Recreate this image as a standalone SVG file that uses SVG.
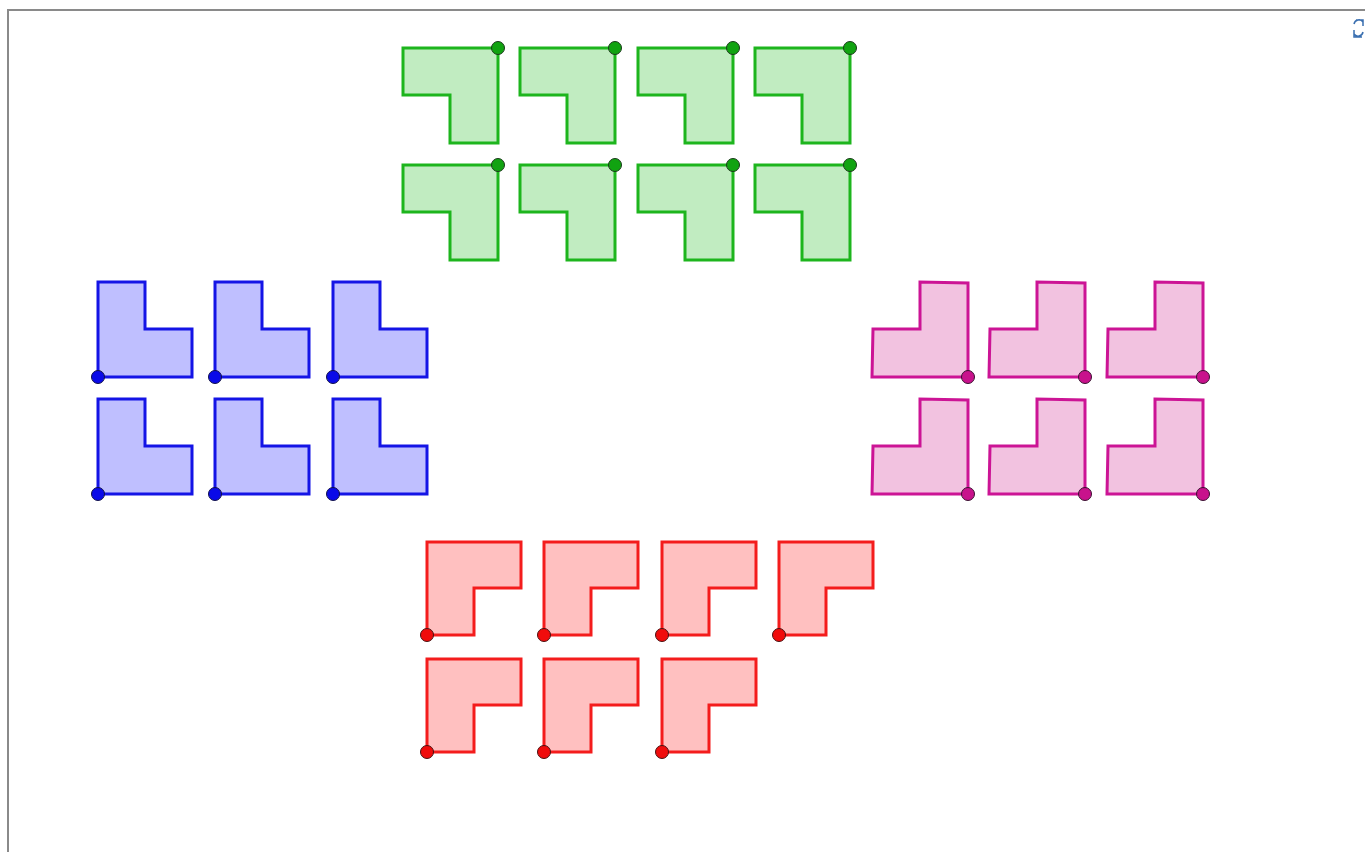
<svg xmlns="http://www.w3.org/2000/svg" xmlns:xlink="http://www.w3.org/1999/xlink" width="1365" height="852" viewBox="0 0 1365 852">
<style>
.g{fill:#c1ecc1;stroke:#1db51d;stroke-width:3;stroke-linejoin:miter}
.gd{fill:#11a311;stroke:#1a3a1a;stroke-width:1}
.b{fill:#bfbfff;stroke:#1414e6;stroke-width:3}
.bd{fill:#0a0ae8;stroke:#10104a;stroke-width:1}
.p{fill:#f2c2e0;stroke:#cc1495;stroke-width:3}
.pd{fill:#c8128c;stroke:#3a1030;stroke-width:1}
.r{fill:#ffc0c0;stroke:#f41c1c;stroke-width:3}
.rd{fill:#f00c0c;stroke:#4a1010;stroke-width:1}
</style>
<defs>
<g id="G"><path class="g" d="M0,0 H95 V95 H47 V47 H0 Z"/><circle class="gd" cx="95" cy="0" r="6.5"/></g>
<g id="B"><path class="b" d="M0,0 V-95 H47 V-48 H94 V0 Z"/><circle class="bd" cx="0" cy="0" r="6.5"/></g>
<g id="P"><path class="p" d="M0,0 V-94 L-48,-95 V-48 H-95 L-96,0 Z"/><circle class="pd" cx="0" cy="0" r="6.5"/></g>
<g id="R"><path class="r" d="M0,0 V-93 H94 V-47 H47 V0 Z"/><circle class="rd" cx="0" cy="0" r="6.5"/></g>
</defs>
<rect width="1365" height="852" fill="#fff"/>
<path d="M8,852 V10 H1365" fill="none" stroke="#8a8a8a" stroke-width="2"/>
<path d="M1356,20 h7 v6 M1354,24 a5,5 0 0 1 9,-2 M1363,32 a5,5 0 0 1 -9,2 M1354,30 v7 h8" fill="none" stroke="#3a6fb0" stroke-width="1.5"/>
<g id="green">
<use xlink:href="#G" x="403" y="48"/><use xlink:href="#G" x="520" y="48"/><use xlink:href="#G" x="638" y="48"/><use xlink:href="#G" x="755" y="48"/>
<use xlink:href="#G" x="403" y="165"/><use xlink:href="#G" x="520" y="165"/><use xlink:href="#G" x="638" y="165"/><use xlink:href="#G" x="755" y="165"/>
</g>
<g id="blue">
<use xlink:href="#B" x="98" y="377"/><use xlink:href="#B" x="215" y="377"/><use xlink:href="#B" x="333" y="377"/>
<use xlink:href="#B" x="98" y="494"/><use xlink:href="#B" x="215" y="494"/><use xlink:href="#B" x="333" y="494"/>
</g>
<g id="pink">
<use xlink:href="#P" x="968" y="377"/><use xlink:href="#P" x="1085" y="377"/><use xlink:href="#P" x="1203" y="377"/>
<use xlink:href="#P" x="968" y="494"/><use xlink:href="#P" x="1085" y="494"/><use xlink:href="#P" x="1203" y="494"/>
</g>
<g id="red">
<use xlink:href="#R" x="427" y="635"/><use xlink:href="#R" x="544" y="635"/><use xlink:href="#R" x="662" y="635"/><use xlink:href="#R" x="779" y="635"/>
<use xlink:href="#R" x="427" y="752"/><use xlink:href="#R" x="544" y="752"/><use xlink:href="#R" x="662" y="752"/>
</g>
</svg>
